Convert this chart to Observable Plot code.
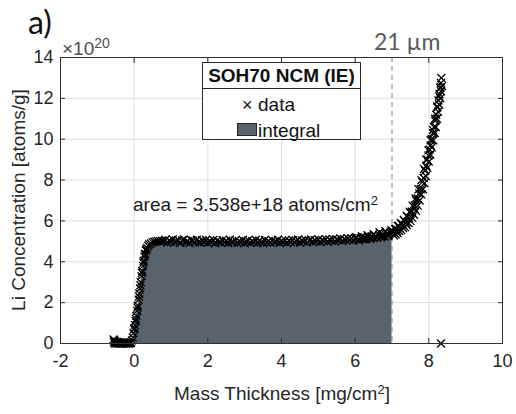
<!DOCTYPE html>
<html><head><meta charset="utf-8">
<script src="https://cdn.jsdelivr.net/npm/d3@7"></script>
<script src="https://cdn.jsdelivr.net/npm/@observablehq/plot@0.6"></script>
<style>
body{margin:0;background:#fff;}
#wrap{position:relative;width:516px;height:414px;font-family:"Liberation Sans",Arial,sans-serif;color:#262626;overflow:hidden;}
#wrap svg{position:absolute;left:0;top:0;}
.ov{position:absolute;white-space:nowrap;line-height:1;}
.sup{position:relative;}
</style></head><body><div id="wrap"></div>
<script>
// ---- data ----
const xTicks = [-2, 0, 2, 4, 6, 8, 10];
const yTicks = [0, 2, 4, 6, 8, 10, 12, 14];
const integralLimit = 7;

// mass thickness [mg/cm^2]
const massThickness = [
  -0.56,-0.55,-0.54,-0.53,-0.52,-0.5,-0.48,-0.46,-0.44,-0.42,-0.4,-0.38,-0.36,-0.34,-0.32,-0.3,-0.28,-0.26,-0.24,-0.22,-0.2,-0.18,-0.16,-0.14,-0.12,-0.1,
  -0.08,-0.06,-0.04,-0.02,0,0.02,0.04,0.06,0.08,0.1,0.12,0.14,0.16,0.18,0.2,0.22,0.24,0.26,0.28,0.3,0.32,0.35,0.38,0.41,0.45,0.5,0.55,0.6,0.65,0.7,0.75,0.8,
  0.01,0.05,0.09,0.13,0.17,0.21,0.25,0.29,0.33,
  0.85,0.9,0.95,1.0,1.05,1.1,1.15,1.2,1.25,1.3,
  1.35,1.4,1.45,1.5,1.55,1.6,1.65,1.7,1.75,1.8,
  1.85,1.9,1.95,2.0,2.05,2.1,2.15,2.2,2.25,2.3,
  2.35,2.4,2.45,2.5,2.55,2.6,2.65,2.7,2.75,2.8,
  2.85,2.9,2.95,3.0,3.05,3.1,3.15,3.2,3.25,3.3,
  3.35,3.4,3.45,3.5,3.55,3.6,3.65,3.7,3.75,3.8,
  3.85,3.9,3.95,4.0,4.05,4.1,4.15,4.2,4.25,4.3,
  4.35,4.4,4.45,4.5,4.55,4.6,4.65,4.7,4.75,4.8,
  4.85,4.9,4.95,5.0,5.05,5.1,5.15,5.2,5.25,5.3,
  5.35,5.4,5.45,5.5,5.55,5.6,5.65,5.7,5.75,5.8,
  5.85,5.9,5.95,6.0,6.05,6.1,6.15,6.2,6.25,6.3,
  6.35,6.4,6.45,6.5,6.55,6.6,6.65,6.7,6.75,6.8,
  6.85,6.9,6.95,7.0,
  6.02,6.1,6.18,6.26,6.34,6.42,6.5,6.58,6.66,6.74,6.82,6.9,6.98,
  7.02,7.06,7.1,7.14,7.18,7.22,7.26,7.3,7.34,7.38,7.42,7.46,7.5,7.54,7.58,7.62,7.66,7.7,7.74,7.78,7.82,7.86,7.9,7.93,7.96,7.99,
  8.02,8.05,8.08,8.11,8.14,8.17,8.2,8.23,8.26,8.29,8.31,8.33,8.34,
  8.36,8.33,8.31,8.28,8.25,8.22,8.19,8.16,8.12,8.08,8.04,8.0,7.96,7.92,7.88,7.84,7.8,7.75,7.7,7.65,7.6,7.55,7.5,7.45,7.4,7.35,7.3,7.25,7.2,7.15,7.1,7.05,
  7.08,7.16,7.24,7.32,7.4,7.48,7.56,7.64,7.72,7.8,7.87,7.93,7.99,8.05,8.11,8.17,8.23,8.28,8.32,
  8.33
];
// Li concentration [1e20 atoms/g]
const liConc = [
  0.2,0.08,0.15,0.0,0.1,0.05,0.0,0.08,0.03,0.0,0.06,0.0,0.04,0.0,0.05,0.0,0.03,0.0,0.04,0.0,0.03,0.0,0.02,0.0,0.03,0.02,
  0.05,0.15,0.3,0.5,0.7,0.9,1.1,1.35,1.6,1.85,2.15,2.45,2.7,3.0,3.3,3.55,3.8,4.05,4.25,4.4,4.55,4.68,4.78,4.85,4.9,4.95,4.98,5.0,5.02,5.0,5.03,5.01,
  0.75,1.2,1.75,2.3,2.85,3.45,3.95,4.35,4.6,
  5.08,4.94,5.05,4.97,5.1,4.95,5.02,5.07,4.93,5.04,
  5.09,4.96,5.01,4.92,5.07,5.03,4.95,5.08,4.98,4.94,
  5.06,4.97,5.08,4.93,5.02,4.96,5.07,4.91,5.05,4.98,
  4.94,5.06,4.96,5.03,4.92,5.08,4.97,4.95,5.05,4.93,
  5.02,4.95,5.07,4.91,4.99,5.06,4.94,5.01,4.96,5.08,
  4.93,5.04,4.97,4.92,5.07,4.95,5.02,4.94,5.06,4.96,
  4.99,5.08,4.93,5.01,4.96,5.06,4.92,5.04,4.97,5.07,
  4.95,5.02,5.09,4.94,5.05,4.99,5.07,4.96,5.04,5.1,
  4.97,5.06,5.0,5.09,4.96,5.07,5.02,5.11,4.98,5.08,
  5.03,5.12,5.0,5.1,5.05,5.14,5.01,5.11,5.06,5.15,
  5.07,5.16,5.04,5.13,5.18,5.07,5.15,5.1,5.21,5.12,
  5.22,5.12,5.25,5.16,5.28,5.18,5.32,5.2,5.35,5.24,
  5.38,5.27,5.42,5.45,
  5.2,5.05,5.25,5.1,5.3,5.15,5.35,5.2,5.45,5.25,5.5,5.3,5.55,
  5.5,5.42,5.62,5.5,5.75,5.62,5.85,5.8,6.0,5.92,6.2,6.15,6.4,6.45,6.7,6.75,7.0,7.1,7.35,7.55,7.9,8.1,8.45,8.7,9.0,9.2,
  9.5,9.7,10.0,10.3,10.6,10.9,11.2,11.6,11.9,12.2,12.5,12.75,13.0,
  12.6,12.35,12.0,11.7,11.35,11.0,10.6,10.3,9.95,9.6,9.25,8.9,8.6,8.2,7.85,7.55,7.3,7.0,6.75,6.5,6.3,6.15,6.0,5.9,5.8,5.7,5.65,5.55,5.5,5.4,5.35,5.3,
  5.6,5.75,5.9,6.05,6.25,6.45,6.75,7.1,7.55,8.0,8.55,9.0,9.45,9.95,10.45,11.0,11.55,12.1,12.55,
  0
];

// ---- chart ----
const rows = massThickness.map((x, i) => ({x, y: liConc[i]}));
const fillRows = rows.filter(d => d.x >= 0 && d.x <= integralLimit).sort((a, b) => a.x - b.x);
const tickLen = 5;
const axisColor = "#303030";

const chart = Plot.plot({
  width: 516, height: 414,
  marginLeft: 60, marginRight: 14, marginTop: 57, marginBottom: 71,
  x: {domain: [-2, 10]},
  y: {domain: [0, 14]},
  style: {fontFamily: "Liberation Sans, Arial, sans-serif", fontSize: "18px", color: "#262626", background: "transparent"},
  marks: [
    Plot.gridX(xTicks, {stroke: "#dedede", strokeOpacity: 1}),
    Plot.gridY(yTicks, {stroke: "#dedede", strokeOpacity: 1}),
    Plot.area(fillRows, {x1: "x", y1: 0, y2: "y", fill: "#58636c"}),
    Plot.ruleX([integralLimit], {stroke: "#808080", strokeDasharray: "5,4"}),
    Plot.dot(rows, {x: "x", y: "y", symbol: "times", r: 3.7, stroke: "#000", strokeWidth: 1.3}),
    Plot.frame({stroke: axisColor}),
    Plot.axisX(xTicks, {anchor: "bottom", tickSize: 0, tickPadding: 11, tickFormat: d => String(d), label: null}),
    Plot.axisY(yTicks, {anchor: "left", tickSize: 0, tickPadding: 7, tickFormat: d => String(d), label: null}),
    Plot.axisX(xTicks, {anchor: "bottom", tickSize: tickLen, dy: -tickLen, tickFormat: () => "", label: null, stroke: axisColor}),
    Plot.axisX(xTicks, {anchor: "top", tickSize: tickLen, dy: tickLen, tickFormat: () => "", label: null, stroke: axisColor}),
    Plot.axisY(yTicks, {anchor: "left", tickSize: tickLen, dx: tickLen, tickFormat: () => "", label: null, stroke: axisColor}),
    Plot.axisY(yTicks, {anchor: "right", tickSize: tickLen, dx: -tickLen, tickFormat: () => "", label: null, stroke: axisColor})
  ]
});

const wrap = document.getElementById("wrap");
wrap.appendChild(chart);

const overlay = `
<div class="ov" style="left:28px;top:6px;font-family:Lato,'Open Sans',sans-serif;font-size:32px;color:#111;">a)</div>
<div class="ov" style="left:62px;top:39px;font-size:19px;color:#4d4d4d;">×10<span class="sup" style="top:-0.5em;font-size:14px;">20</span></div>
<div class="ov" style="left:374px;top:30px;font-family:Lato,'Open Sans',sans-serif;font-size:23px;color:#5a5a5a;">21 µm</div>
<div class="ov" style="left:133px;top:195px;font-size:19px;color:#1a1a1a;">area = 3.538e+18 atoms/cm<span class="sup" style="top:-0.5em;font-size:13px;">2</span></div>
<div class="ov" style="left:282px;top:384px;font-size:19px;transform:translateX(-50%);">Mass Thickness [mg/cm<span class="sup" style="top:-0.5em;font-size:13px;">2</span>]</div>
<div class="ov" style="left:18px;top:200px;font-size:19px;transform:translate(-50%,-50%) rotate(-90deg);">Li Concentration [atoms/g]</div>
<div class="ov" style="left:202px;top:62px;width:157px;height:76px;border:1px solid #262626;background:#fff;">
  <div class="ov" style="left:0;top:0;width:157px;height:25px;border-bottom:1px solid #262626;font-weight:bold;font-size:19px;text-align:center;line-height:26px;color:#111;">SOH70 NCM (IE)</div>
  <div class="ov" style="left:39px;top:33px;font-size:18px;color:#111;">×</div>
  <div class="ov" style="left:55px;top:32px;font-size:19px;color:#111;">data</div>
  <div class="ov" style="left:34px;top:60px;width:18px;height:11px;border:1px solid #262626;background:#58636c;"></div>
  <div class="ov" style="left:55px;top:58px;font-size:19px;color:#111;">integral</div>
</div>`;
wrap.insertAdjacentHTML("beforeend", overlay);
</script>
</body></html>
